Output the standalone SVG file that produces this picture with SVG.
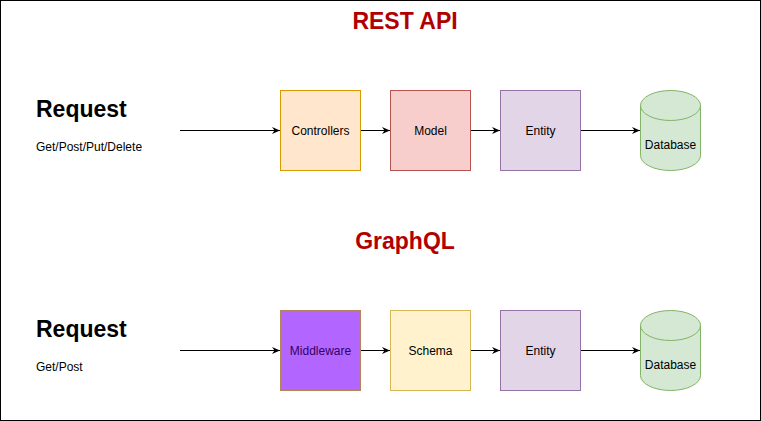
<svg xmlns="http://www.w3.org/2000/svg" width="761" height="421" viewBox="0 0 761 421">
<defs>
<style>
.t{font-family:"Liberation Sans",Arial,sans-serif;}
.title{font-size:23px;font-weight:bold;fill:#b20000;text-anchor:middle;}
.req{font-size:23px;font-weight:bold;fill:#000;}
.sub{font-size:12px;fill:#000;}
.lbl{font-size:12px;fill:#000;text-anchor:middle;}
.edge{stroke:#000;stroke-width:1;fill:none;marker-end:url(#arr);}
</style>
<marker id="arr" markerWidth="10" markerHeight="10" refX="8" refY="5" orient="auto" markerUnits="userSpaceOnUse">
<path d="M0,1.5 L8,5 L0,8.5 L2.5,5 Z" fill="#000"/>
</marker>
</defs>
<rect x="0.5" y="0.5" width="760" height="420" fill="#fff" stroke="#000"/>
<g id="title-rest"><text class="t title" x="405" y="29">REST API</text></g>
<g id="title-graphql"><text class="t title" x="405" y="249">GraphQL</text></g>
<g id="request-rest"><text class="t req" x="36" y="117">Request</text><text class="t sub" x="36" y="151">Get/Post/Put/Delete</text></g>
<g id="request-graphql"><text class="t req" x="36" y="337">Request</text><text class="t sub" x="36" y="371">Get/Post</text></g>
<g id="controllers"><rect x="280.5" y="90.5" width="80" height="80" fill="#ffe6cc" stroke="#d79b00"/><text class="t lbl" x="320.5" y="135">Controllers</text></g>
<g id="model"><rect x="390.5" y="90.5" width="80" height="80" fill="#f8cecc" stroke="#b85450"/><text class="t lbl" x="430.5" y="135">Model</text></g>
<g id="entity-rest"><rect x="500.5" y="90.5" width="80" height="80" fill="#e1d5e7" stroke="#9673a6"/><text class="t lbl" x="540.5" y="135">Entity</text></g>
<g id="database-rest"><path d="M640.5,105.5 A30,15 0 0 1 700.5,105.5 L700.5,155.5 A30,15 0 0 1 640.5,155.5 Z" fill="#d5e8d4" stroke="#82b366"/><path d="M640.5,105.5 A30,15 0 0 0 700.5,105.5" fill="none" stroke="#82b366"/><text class="t lbl" x="670.5" y="149">Database</text></g>
<g id="middleware"><rect x="280.5" y="310.5" width="80" height="80" fill="#b266ff" stroke="#b5835a"/><text class="t lbl" x="320.5" y="355" style="fill:#330066">Middleware</text></g>
<g id="schema"><rect x="390.5" y="310.5" width="80" height="80" fill="#fff2cc" stroke="#d6b656"/><text class="t lbl" x="430.5" y="355">Schema</text></g>
<g id="entity-graphql"><rect x="500.5" y="310.5" width="80" height="80" fill="#e1d5e7" stroke="#9673a6"/><text class="t lbl" x="540.5" y="355">Entity</text></g>
<g id="database-graphql"><path d="M640.5,325.5 A30,15 0 0 1 700.5,325.5 L700.5,375.5 A30,15 0 0 1 640.5,375.5 Z" fill="#d5e8d4" stroke="#82b366"/><path d="M640.5,325.5 A30,15 0 0 0 700.5,325.5" fill="none" stroke="#82b366"/><text class="t lbl" x="670.5" y="369">Database</text></g>
<g id="connectors">
<line class="edge" x1="180" y1="130.5" x2="280" y2="130.5"/>
<line class="edge" x1="361" y1="130.5" x2="390" y2="130.5"/>
<line class="edge" x1="471" y1="130.5" x2="500" y2="130.5"/>
<line class="edge" x1="581" y1="130.5" x2="640" y2="130.5"/>
<line class="edge" x1="180" y1="350.5" x2="280" y2="350.5"/>
<line class="edge" x1="361" y1="350.5" x2="390" y2="350.5"/>
<line class="edge" x1="471" y1="350.5" x2="500" y2="350.5"/>
<line class="edge" x1="581" y1="350.5" x2="640" y2="350.5"/>
</g>
</svg>
